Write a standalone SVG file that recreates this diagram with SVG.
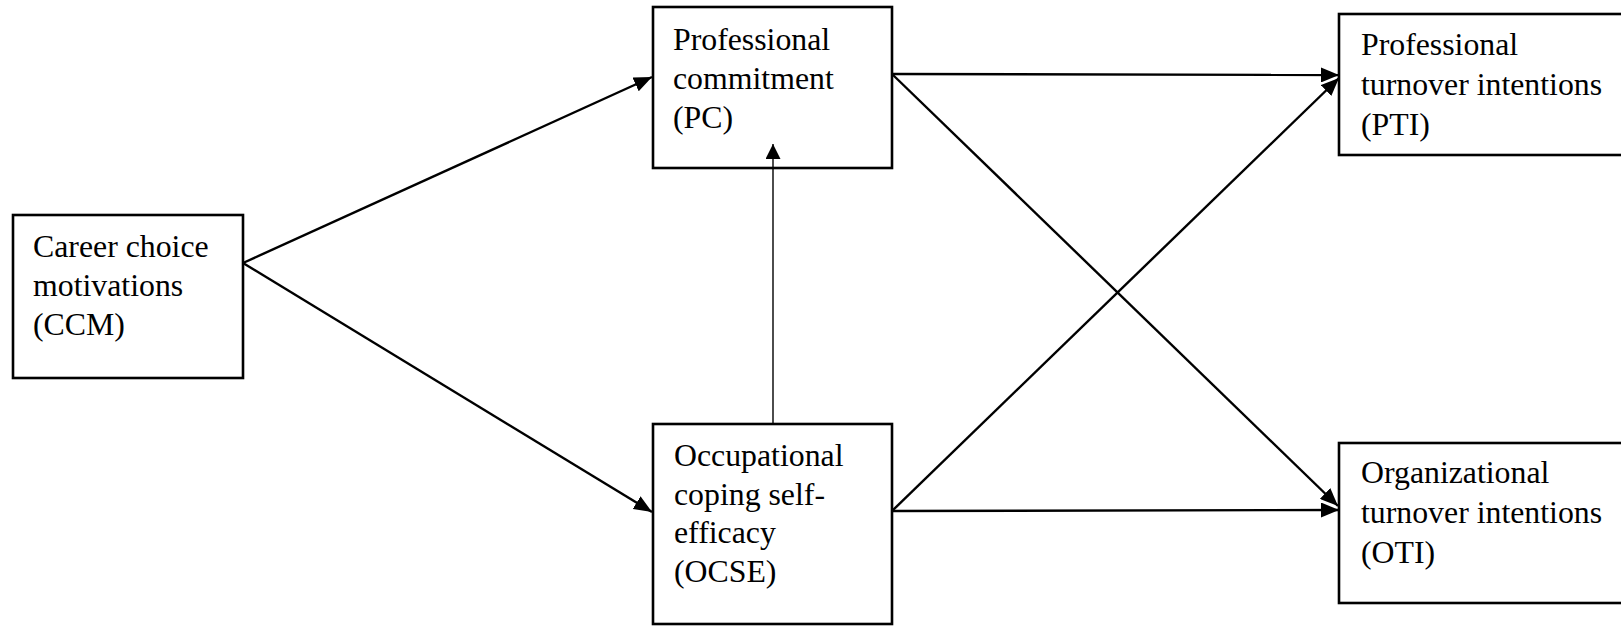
<svg xmlns="http://www.w3.org/2000/svg" width="1621" height="626" viewBox="0 0 1621 626">
<style>
.box{fill:#fff;stroke:#000;stroke-width:2.6}
.t{font-family:"Liberation Serif","Times New Roman",serif;font-size:31.8px;fill:#000}
.c{stroke:#000;stroke-width:2.4;fill:none}
.thin{stroke:#000;stroke-width:1.4;fill:none}
</style>
<defs>
<marker id="ah" markerUnits="userSpaceOnUse" markerWidth="19" markerHeight="15" refX="18" refY="7.5" orient="auto">
<path d="M0,0 L18,7.5 L0,15 z" fill="#000"/>
</marker>
<marker id="ahv" markerUnits="userSpaceOnUse" markerWidth="16" markerHeight="15" refX="15" refY="7.5" orient="auto">
<path d="M0,0 L15,7.5 L0,15 z" fill="#000"/>
</marker>
</defs>
<rect width="1621" height="626" fill="#fff"/>
<g id="connectors">
<line class="c" x1="243" y1="263" x2="652" y2="77" marker-end="url(#ah)"/>
<line class="c" x1="243" y1="263" x2="652" y2="512" marker-end="url(#ah)"/>
<line class="c" x1="892" y1="74" x2="1339" y2="75" marker-end="url(#ah)"/>
<line class="c" x1="892" y1="74" x2="1338" y2="506" marker-end="url(#ah)"/>
<line class="c" x1="892" y1="511" x2="1339" y2="78" marker-end="url(#ah)"/>
<line class="c" x1="892" y1="511" x2="1339" y2="510" marker-end="url(#ah)"/>
</g>
<g id="CCM">
<rect class="box" x="13" y="215" width="230" height="163"/>
<text class="t" x="33" y="257">Career choice</text>
<text class="t" x="33" y="296">motivations</text>
<text class="t" x="33" y="335">(CCM)</text>
</g>
<g id="PC">
<rect class="box" x="653" y="7" width="239" height="161"/>
<text class="t" x="673" y="50">Professional</text>
<text class="t" x="673" y="89">commitment</text>
<text class="t" x="673" y="128">(PC)</text>
</g>
<g id="PTI">
<rect class="box" x="1339" y="14" width="300" height="141"/>
<text class="t" x="1361" y="55">Professional</text>
<text class="t" x="1361" y="95">turnover intentions</text>
<text class="t" x="1361" y="135">(PTI)</text>
</g>
<g id="OCSE">
<rect class="box" x="653" y="424" width="239" height="200"/>
<text class="t" x="674" y="466">Occupational</text>
<text class="t" x="674" y="505">coping self-</text>
<text class="t" x="674" y="543">efficacy</text>
<text class="t" x="674" y="582">(OCSE)</text>
</g>
<g id="OTI">
<rect class="box" x="1339" y="443" width="300" height="160"/>
<text class="t" x="1361" y="483">Organizational</text>
<text class="t" x="1361" y="523">turnover intentions</text>
<text class="t" x="1361" y="563">(OTI)</text>
</g>
<g id="connector-vertical">
<line class="thin" x1="773" y1="424" x2="773" y2="144" marker-end="url(#ahv)"/>
</g>
</svg>
